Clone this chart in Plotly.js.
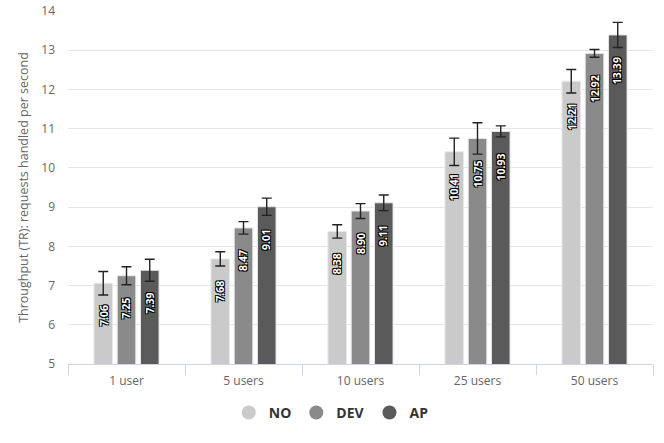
<!DOCTYPE html>
<html>
<head>
<meta charset="utf-8">
<script src="https://cdn.plot.ly/plotly-3.0.1.min.js"></script>
<style>
  html, body { margin: 0; padding: 0; background: #fff; }
  #chart { width: 664px; height: 443px; }
</style>
</head>
<body>
<div id="chart"></div>
<script>
const categories = ["1 user", "5 users", "10 users", "25 users", "50 users"];
const seriesNames = ["NO", "DEV", "AP"];
const noValues  = [7.06, 7.68, 8.38, 10.41, 12.21];
const devValues = [7.25, 8.47, 8.90, 10.75, 12.92];
const apValues  = [7.39, 9.01, 9.11, 10.93, 13.39];
const noErr  = [0.30, 0.18, 0.17, 0.35, 0.30];
const devErr = [0.23, 0.16, 0.19, 0.40, 0.10];
const apErr  = [0.28, 0.22, 0.20, 0.14, 0.32];
const labelText = {
    NO: ["7.06", "7.68", "8.38", "10.41", "12.21"],
    DEV: ["7.25", "8.47", "8.90", "10.75", "12.92"],
    AP: ["7.39", "9.01", "9.11", "10.93", "13.39"]
};

const colors = ["#cacaca", "#8a8a8a", "#5a5a5a"];
const values = [noValues, devValues, apValues];
const errors = [noErr, devErr, apErr];
const font = "'Open Sans', 'DejaVu Sans', sans-serif";
const outline = "-1px -1px 0 #000, 1px -1px 0 #000, -1px 1px 0 #000, 1px 1px 0 #000";

const traces = [];
const annotations = [];

seriesNames.forEach((name, i) => {
    traces.push({
        type: "bar",
        name: name,
        x: categories,
        y: values[i],
        marker: {color: colors[i], line: {width: 1, color: "#e8e8e8"}},
        error_y: {type: "data", array: errors[i], visible: true, color: "#222", thickness: 1.4, width: 5},
        showlegend: false,
        hoverinfo: "y"
    });
    // legend entry with a round symbol
    traces.push({
        type: "scatter",
        mode: "markers",
        name: name,
        x: [null],
        y: [null],
        marker: {color: colors[i], size: 14, symbol: "circle"},
        showlegend: true
    });
    categories.forEach((cat, j) => {
        annotations.push({
            x: cat,
            y: values[i][j],
            xref: "x",
            yref: "y",
            text: labelText[name][j],
            showarrow: false,
            textangle: -90,
            xanchor: "center",
            yanchor: "top",
            xshift: (i - 1) * 23.2,
            yshift: -20,
            font: {family: font, size: 10.5, color: "#fff", weight: 700, shadow: outline}
        });
    });
});

const layout = {
    width: 664,
    height: 443,
    margin: {l: 68, r: 11, t: 11, b: 79},
    paper_bgcolor: "#fff",
    plot_bgcolor: "#fff",
    barmode: "group",
    bargap: 0.404,
    bargroupgap: 0.2,
    font: {family: font, color: "#666"},
    xaxis: {
        type: "category",
        tickson: "boundaries",
        ticks: "outside",
        ticklen: 10,
        tickcolor: "#ccd6eb",
        tickfont: {size: 12, color: "#666"},
        ticklabelstandoff: 6,
        showline: true,
        linecolor: "#ccd6eb",
        linewidth: 1,
        showgrid: false,
        zeroline: false,
        automargin: false,
        fixedrange: true
    },
    yaxis: {
        range: [5, 14],
        dtick: 1,
        tickfont: {size: 12, color: "#666"},
        gridcolor: "#e6e6e6",
        zeroline: false,
        ticks: "",
        ticklabelstandoff: 12,
        automargin: false,
        title: {text: "Throughput (TR): requests handled per second", font: {size: 12.5, color: "#666"}, standoff: 9},
        fixedrange: true
    },
    legend: {
        orientation: "h",
        x: 0.45,
        xanchor: "center",
        xref: "paper",
        yref: "container",
        y: 0.068,
        yanchor: "middle",
        font: {size: 14, color: "#333", weight: 700},
        itemclick: false,
        itemdoubleclick: false
    },
    annotations: annotations
};

Plotly.newPlot("chart", traces, layout, {displayModeBar: false, staticPlot: true});
</script>
</body>
</html>
